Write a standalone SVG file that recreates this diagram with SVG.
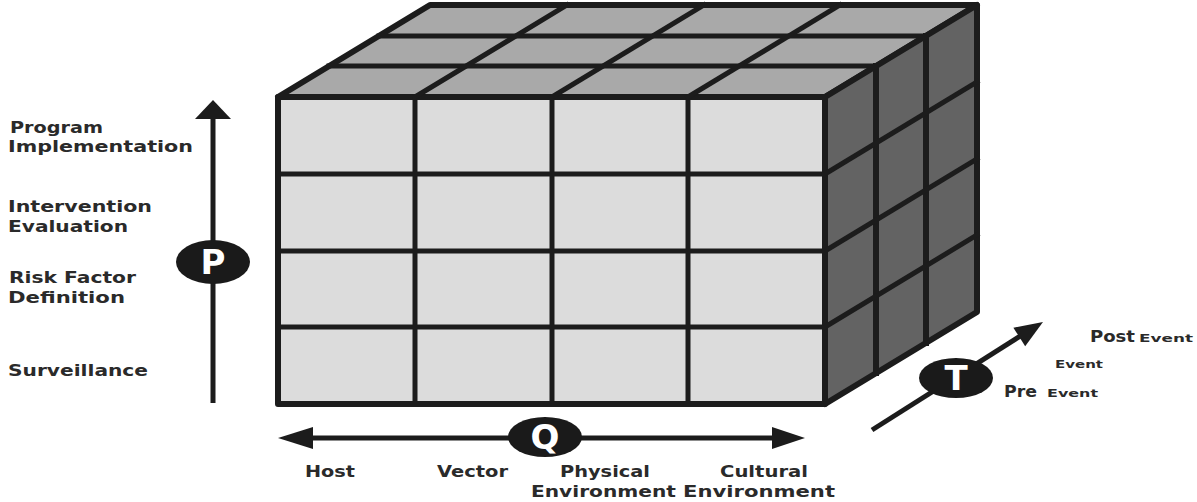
<svg xmlns="http://www.w3.org/2000/svg" width="1197" height="502" viewBox="0 0 1197 502">
<style>
.edge{stroke:#1c1c1c;stroke-width:5;stroke-linecap:square;fill:none}
.outer{stroke:#1c1c1c;stroke-width:6;stroke-linejoin:round}
.lbl{font-family:"DejaVu Sans","Liberation Sans",sans-serif;font-weight:bold;font-size:15px;fill:#2a2a2a}
.sm{font-family:"DejaVu Sans","Liberation Sans",sans-serif;font-weight:bold;font-size:11px;fill:#2a2a2a}
.axis{stroke:#1c1c1c;stroke-width:5;fill:none}
.head{fill:#1c1c1c}
.badge{fill:#1a1a1a}
.blt{font-family:"DejaVu Sans","Liberation Sans",sans-serif;font-weight:bold;font-size:34px;fill:#ffffff}
</style>
<rect width="1197" height="502" fill="#ffffff"/>
<g id="cube">
  <polygon class="outer" points="278,97 825,97 977,5 430,5" fill="#a9a9a9"/>
  <polygon class="outer" points="825,97 977,5 977,312 825,404" fill="#636363"/>
  <rect class="outer" x="278" y="97" width="547" height="307" fill="#dcdcdc"/>
  <g class="edge">
    <line x1="415" y1="97" x2="415" y2="404"/>
    <line x1="552" y1="97" x2="552" y2="404"/>
    <line x1="688" y1="97" x2="688" y2="404"/>
    <line x1="278" y1="174" x2="825" y2="174"/>
    <line x1="278" y1="251" x2="825" y2="251"/>
    <line x1="278" y1="327" x2="825" y2="327"/>
    <line x1="415" y1="97" x2="567" y2="5"/>
    <line x1="552" y1="97" x2="704" y2="5"/>
    <line x1="688" y1="97" x2="840" y2="5"/>
    <line x1="329" y1="66" x2="876" y2="66"/>
    <line x1="379" y1="36" x2="926" y2="36"/>
    <line x1="876" y1="66" x2="876" y2="373" stroke-width="6"/>
    <line x1="926" y1="36" x2="926" y2="343" stroke-width="6"/>
    <line x1="825" y1="174" x2="977" y2="82"/>
    <line x1="825" y1="251" x2="977" y2="159"/>
    <line x1="825" y1="327" x2="977" y2="235"/>
  </g>
</g>
<g id="connectors">
  <line class="axis" x1="213" y1="403" x2="213" y2="115"/>
  <polygon class="head" points="213,100 195,119 231,119"/>
  <line class="axis" x1="308" y1="438" x2="776" y2="438"/>
  <polygon class="head" points="278,438 313,427 313,449"/>
  <polygon class="head" points="805,438 772,427 772,449"/>
  <line class="axis" x1="872" y1="430" x2="1022" y2="335"/>
  <polygon class="head" points="1043,322 1025.2,346.3 1013.4,327.7"/>
</g>
<g id="axis-P">
  <ellipse class="badge" cx="213" cy="262" rx="37" ry="22"/>
  <text class="blt" x="213" y="274" text-anchor="middle">P</text>
</g>
<g id="axis-Q">
  <ellipse class="badge" cx="545" cy="437" rx="37" ry="20"/>
  <text class="blt" x="545" y="449" text-anchor="middle">Q</text>
</g>
<g id="axis-T">
  <ellipse class="badge" cx="956" cy="378" rx="37" ry="20"/>
  <text class="blt" x="956" y="390" text-anchor="middle">T</text>
</g>
<g id="labels-P">
  <text class="lbl" x="10" y="133" textLength="93" lengthAdjust="spacingAndGlyphs">Program</text>
  <text class="lbl" x="8" y="152" textLength="185" lengthAdjust="spacingAndGlyphs">Implementation</text>
  <text class="lbl" x="8" y="212" textLength="144" lengthAdjust="spacingAndGlyphs">Intervention</text>
  <text class="lbl" x="8" y="232" textLength="120" lengthAdjust="spacingAndGlyphs">Evaluation</text>
  <text class="lbl" x="9" y="283" textLength="127" lengthAdjust="spacingAndGlyphs">Risk Factor</text>
  <text class="lbl" x="8" y="303" textLength="117" lengthAdjust="spacingAndGlyphs">Definition</text>
  <text class="lbl" x="8" y="376" textLength="140" lengthAdjust="spacingAndGlyphs">Surveillance</text>
</g>
<g id="labels-Q">
  <text class="lbl" x="305" y="477" textLength="50" lengthAdjust="spacingAndGlyphs">Host</text>
  <text class="lbl" x="437" y="477" textLength="71" lengthAdjust="spacingAndGlyphs">Vector</text>
  <text class="lbl" x="560" y="477" textLength="90" lengthAdjust="spacingAndGlyphs">Physical</text>
  <text class="lbl" x="720" y="477" textLength="88" lengthAdjust="spacingAndGlyphs">Cultural</text>
  <text class="lbl" x="531" y="497" textLength="145" lengthAdjust="spacingAndGlyphs">Environment</text>
  <text class="lbl" x="683" y="497" textLength="152" lengthAdjust="spacingAndGlyphs">Environment</text>
</g>
<g id="labels-T">
  <text class="lbl" x="1090" y="342" textLength="45" lengthAdjust="spacingAndGlyphs">Post</text>
  <text class="sm" x="1139" y="342" textLength="54" lengthAdjust="spacingAndGlyphs">Event</text>
  <text class="sm" x="1055" y="368" textLength="48" lengthAdjust="spacingAndGlyphs">Event</text>
  <text class="lbl" x="1004" y="397" textLength="33" lengthAdjust="spacingAndGlyphs">Pre</text>
  <text class="sm" x="1047" y="397" textLength="51" lengthAdjust="spacingAndGlyphs">Event</text>
</g>
</svg>
